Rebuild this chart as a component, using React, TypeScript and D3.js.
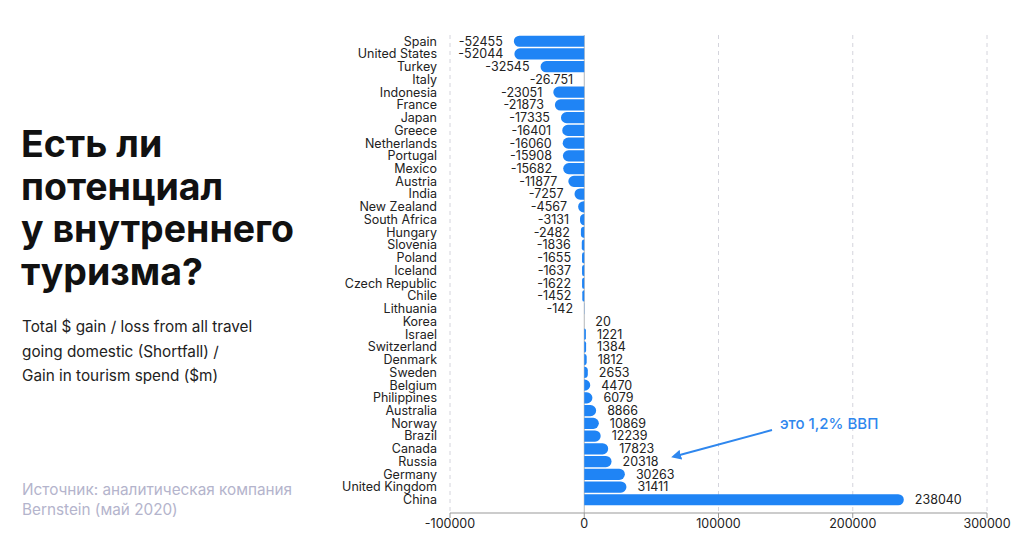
import React from "react"
import * as d3 from "d3"

const countries = [
  "Spain", "United States", "Turkey", "Italy", "Indonesia", "France", "Japan", "Greece",
  "Netherlands", "Portugal", "Mexico", "Austria", "India", "New Zealand", "South Africa",
  "Hungary", "Slovenia", "Poland", "Iceland", "Czech Republic", "Chile", "Lithuania",
  "Korea", "Israel", "Switzerland", "Denmark", "Sweden", "Belgium", "Philippines",
  "Australia", "Norway", "Brazil", "Canada", "Russia", "Germany", "United Kingdom", "China",
]
const values = [
  -52455, -52044, -32545, -26.751, -23051, -21873, -17335, -16401,
  -16060, -15908, -15682, -11877, -7257, -4567, -3131,
  -2482, -1836, -1655, -1637, -1622, -1452, -142,
  20, 1221, 1384, 1812, 2653, 4470, 6079,
  8866, 10869, 12239, 17823, 20318, 30263, 31411, 238040,
]
const xTicks = [-100000, 0, 100000, 200000, 300000]
const titleLines = ["Есть ли", "потенциал", "у внутреннего", "туризма?"]
const subtitleLines = [
  "Total $ gain / loss from all travel",
  "going domestic (Shortfall) /",
  "Gain in tourism spend ($m)",
]
const sourceLines = ["Источник: аналитическая компания", "Bernstein (май 2020)"]

const font = "Inter, 'Noto Sans', sans-serif"

// bar with a rounded outer end and a flat end on the zero line
function barPath(x0: number, x1: number, y: number, h: number) {
  const r = Math.min(h / 2, Math.abs(x1 - x0))
  const s = x1 >= x0 ? 1 : -1
  const p = d3.path()
  p.moveTo(x0, y)
  p.lineTo(x1 - s * r, y)
  p.arcTo(x1, y, x1, y + r, r)
  p.lineTo(x1, y + h - r)
  p.arcTo(x1, y + h, x1 - s * r, y + h, r)
  p.lineTo(x0, y + h)
  p.closePath()
  return p.toString()
}

export default function App() {
  const width = 1024
  const height = 556
  const x = d3.scaleLinear().domain([-100000, 300000]).range([450, 987])
  const y = d3.scaleBand().domain(countries).range([35, 506]).paddingInner(0.12).paddingOuter(0.05)
  const top = 35
  const axisY = 513
  const x0 = x(0)

  return (
    <svg width={width} height={height} style={{ position: "absolute", left: 0, top: 0, background: "#fff" }}>
      <defs>
        <marker id="arrowhead" viewBox="0 0 10 10" refX="5" refY="5" markerWidth="5" markerHeight="5" orient="auto-start-reverse">
          <path d="M0,0 L10,5 L0,10 z" fill="#2f87ee" />
        </marker>
      </defs>

      {titleLines.map((t, i) => (
        <text key={t} x={21} y={157 + i * 42.5} fontFamily={font} fontWeight={700} fontSize={37.5} fill="#111">{t}</text>
      ))}
      {subtitleLines.map((t, i) => (
        <text key={t} x={22} y={332 + i * 24.5} fontFamily={font} fontSize={15.3} fill="#222">{t}</text>
      ))}
      {sourceLines.map((t, i) => (
        <text key={t} x={22} y={495 + i * 20} fontFamily={font} fontSize={15.3} fill="#b4b4cc">{t}</text>
      ))}

      {xTicks.filter(t => t !== 0).map(t => (
        <line key={t} x1={x(t)} x2={x(t)} y1={top} y2={axisY} stroke="#d4d4dc" strokeDasharray="4,4" />
      ))}
      <line x1={x0} x2={x0} y1={top} y2={axisY} stroke="#b8b8b8" />
      <line x1={x(-100000)} x2={x(300000)} y1={axisY} y2={axisY} stroke="#999" />
      {xTicks.map(t => (
        <g key={t}>
          <line x1={x(t)} x2={x(t)} y1={axisY} y2={axisY + 5} stroke="#999" />
          <text x={x(t)} y={axisY + 15} textAnchor="middle" fontFamily={font} fontSize={12.5} fill="#222">{t}</text>
        </g>
      ))}

      {countries.map((c, i) => {
        const v = values[i]
        const yy = y(c) as number
        const h = y.bandwidth()
        const cy = yy + h / 2
        return (
          <g key={c}>
            <path d={barPath(x0, x(v), yy, h)} fill="#1f84f5" />
            <text x={437} y={cy} dy="0.35em" textAnchor="end" fontFamily={font} fontSize={12.5} fill="#222">{c}</text>
            <text x={v < 0 ? x(v) - 11 : x(v) + 11} y={cy} dy="0.35em" textAnchor={v < 0 ? "end" : "start"}
              fontFamily={font} fontSize={12.5} fill="#222">{v}</text>
          </g>
        )
      })}

      <line x1={772} y1={430} x2={676} y2={456} stroke="#2f87ee" strokeWidth={2} markerEnd="url(#arrowhead)" />
      <text x={780} y={429} fontFamily={font} fontSize={15} fontWeight={500} fill="#2f87ee">это 1,2% ВВП</text>
    </svg>
  )
}
